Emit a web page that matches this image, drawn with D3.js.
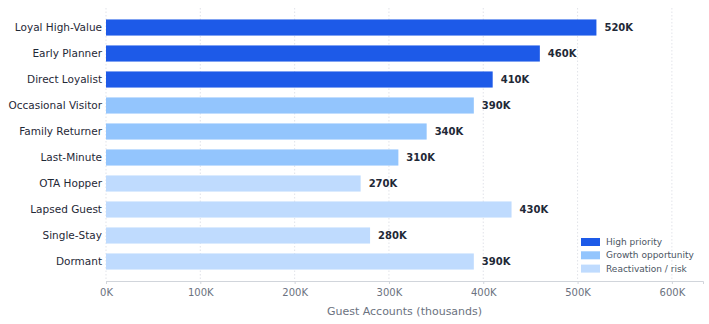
<!DOCTYPE html>
<html>
<head>
<meta charset="utf-8">
<script src="https://cdn.jsdelivr.net/npm/d3@7"></script>
<style>
  body { margin: 0; background: #fff; }
</style>
</head>
<body>
<script>
const width = 709;
const height = 324;
const margin = { top: 8, right: 6, bottom: 43, left: 106 };

const segments = [
  "Loyal High-Value", "Early Planner", "Direct Loyalist", "Occasional Visitor",
  "Family Returner", "Last-Minute", "OTA Hopper", "Lapsed Guest", "Single-Stay", "Dormant"
];
const accounts = [520, 460, 410, 390, 340, 310, 270, 430, 280, 390];
const tiers = [
  "High priority", "High priority", "High priority",
  "Growth opportunity", "Growth opportunity", "Growth opportunity",
  "Reactivation / risk", "Reactivation / risk", "Reactivation / risk", "Reactivation / risk"
];
const tierNames = ["High priority", "Growth opportunity", "Reactivation / risk"];
const tierColors = ["#1d5ae8", "#93c5fd", "#bfdbfe"];
const xTicks = [0, 100, 200, 300, 400, 500, 600];

const rows = segments.map((s, i) => ({ segment: s, value: accounts[i], tier: tiers[i] }));

const svg = d3.select("body").append("svg")
  .attr("width", width)
  .attr("height", height)
  .style("font-family", "DejaVu Sans, sans-serif");

const x = d3.scaleLinear()
  .domain([0, 633])
  .range([margin.left, width - margin.right]);

const y = d3.scaleBand()
  .domain(segments)
  .range([margin.top, height - margin.bottom])
  .paddingInner(0.38)
  .paddingOuter(0.44);

const color = d3.scaleOrdinal().domain(tierNames).range(tierColors);

// dotted vertical grid
svg.append("g")
  .selectAll("line")
  .data(xTicks)
  .join("line")
  .attr("x1", d => x(d)).attr("x2", d => x(d))
  .attr("y1", margin.top).attr("y2", height - margin.bottom)
  .attr("stroke", "#d9dce3")
  .attr("stroke-width", 0.8)
  .attr("stroke-dasharray", "1.5,2");

svg.append("g")
  .selectAll("rect")
  .data(rows)
  .join("rect")
  .attr("x", x(0))
  .attr("y", d => y(d.segment))
  .attr("width", d => x(d.value) - x(0))
  .attr("height", y.bandwidth())
  .attr("fill", d => color(d.tier));

svg.append("g")
  .selectAll("text")
  .data(rows)
  .join("text")
  .attr("x", d => x(d.value) + 8)
  .attr("y", d => y(d.segment) + y.bandwidth() / 2)
  .attr("dy", "0.35em")
  .attr("font-size", 10)
  .attr("font-weight", "bold")
  .attr("fill", "#1f2937")
  .text(d => d.value + "K");

// category axis
const yAxis = svg.append("g")
  .attr("transform", `translate(${margin.left},0)`)
  .call(d3.axisLeft(y).tickSize(0).tickPadding(4));
yAxis.select(".domain").remove();
yAxis.selectAll("text")
  .attr("font-size", 10.5)
  .attr("fill", "#1f2937")
  .style("font-family", "DejaVu Sans, sans-serif");

// value axis
const xAxis = svg.append("g")
  .attr("transform", `translate(0,${height - margin.bottom})`)
  .call(d3.axisBottom(x).tickValues(xTicks).tickSize(3).tickPadding(5).tickFormat(d => d + "K"));
xAxis.select(".domain").attr("stroke", "#d1d5db");
xAxis.selectAll(".tick line").attr("stroke", "#d1d5db");
xAxis.selectAll("text")
  .attr("font-size", 10)
  .attr("fill", "#6b7280")
  .style("font-family", "DejaVu Sans, sans-serif");

svg.append("text")
  .attr("x", (x(0) + x(633)) / 2)
  .attr("y", height - 9)
  .attr("text-anchor", "middle")
  .attr("font-size", 11)
  .attr("fill", "#6b7280")
  .text("Guest Accounts (thousands)");

// legend
const legend = svg.append("g").attr("transform", "translate(581,238)");
const item = legend.selectAll("g")
  .data(tierNames)
  .join("g")
  .attr("transform", (d, i) => `translate(0,${i * 13.3})`);
item.append("rect")
  .attr("width", 19)
  .attr("height", 8)
  .attr("fill", d => color(d));
item.append("text")
  .attr("x", 25)
  .attr("y", 4)
  .attr("dy", "0.35em")
  .attr("font-size", 9)
  .attr("fill", "#4b5563")
  .text(d => d);
</script>
</body>
</html>
